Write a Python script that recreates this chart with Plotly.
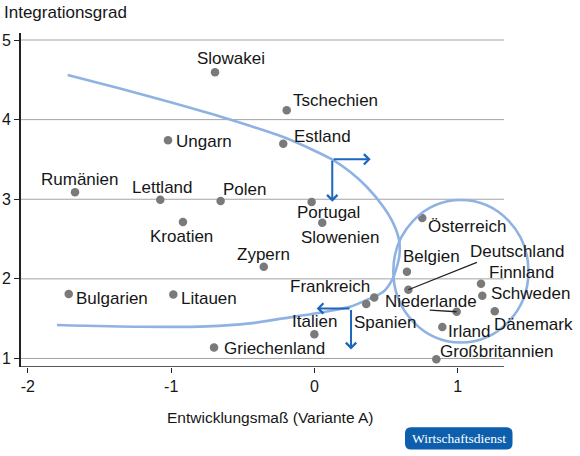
import plotly.graph_objects as go

# ---------------- data ----------------
countries = ["Slowakei", "Tschechien", "Ungarn", "Estland", "Rumänien", "Lettland", "Polen",
             "Kroatien", "Portugal", "Slowenien", "Österreich", "Zypern", "Bulgarien", "Litauen",
             "Griechenland", "Frankreich", "Spanien", "Italien", "Belgien", "Deutschland",
             "Niederlande", "Finnland", "Schweden", "Dänemark", "Irland", "Großbritannien"]
entwicklung = [-0.694, -0.194, -1.022, -0.218, -1.671, -1.076, -0.655,
               -0.918, -0.020, 0.054, 0.752, -0.354, -1.715, -0.985,
               -0.701, 0.417, 0.361, -0.001, 0.645, 0.655,
               0.992, 1.162, 1.171, 1.258, 0.892, 0.850]
integration = [4.594, 4.117, 3.740, 3.697, 3.087, 2.994, 2.977,
               2.714, 2.965, 2.705, 2.764, 2.152, 1.809, 1.805,
               1.139, 1.767, 1.683, 1.303, 2.089, 1.863,
               1.587, 1.938, 1.788, 1.592, 1.394, 0.989]

# label offsets (pixels, label centre relative to dot; +y = down)
label_dx = [15.8, 48.5, 36.2, 39.2, 5.2, 2.7, 24.3,
            -1.8, 16.6, 17.4, 44.4, 0.0, 43.5, 35.9,
            60.5, -44.6, 18.7, 0.4, 24.7, 108.7,
            -25.4, 40.2, 48.2, 38.3, 26.9, 60.0]
label_dy = [-13.8, -10.3, 0.7, -7.0, -13.3, -12.7, -12.0,
            14.3, 10.5, 14.8, 8.0, -12.7, 4.0, 3.7,
            1.2, -11.3, 18.0, -12.8, -15.7, -38.0,
            -10.0, -11.2, -2.7, 12.7, 4.0, -8.3]

# cluster boundary curve (hand-drawn separator)
curve_x = [-1.722, -1.357, -0.985, -0.613, -0.218, 0.015, 0.131, 0.248, 0.364, 0.480,
           0.550, 0.590, 0.593, 0.572, 0.541, 0.480, 0.364, 0.248, 0.015, -0.218,
           -0.450, -0.752, -1.218, -1.797]
curve_y = [4.560, 4.390, 4.208, 4.013, 3.781, 3.597, 3.492, 3.345, 3.157, 2.906,
           2.697, 2.487, 2.299, 2.136, 1.985, 1.838, 1.734, 1.649, 1.567, 1.504,
           1.441, 1.403, 1.398, 1.420]

# circle around core cluster
circle_x = [0.550, 1.493]
circle_y = [1.200, 2.990]

y_ticks = [1, 2, 3, 4, 5]
x_ticks = [-2, -1, 0, 1]
x_ticktext = ["-2", "-1", "0", "1"]

# arrows: (start_x, start_y, end_x, end_y)
arrows = [(0.124, 3.501, 0.392, 3.501), (0.124, 3.501, 0.124, 2.969),
          (0.255, 1.629, 0.015, 1.629), (0.255, 1.629, 0.255, 1.114)]

# ---------------- layout constants ----------------
W, H = 580, 456
ML, MR, MT, MB = 21, 35, 33, 89
XR = [-2.048, 1.6085]
YR = [0.893, 5.088]
GRID_END = 1.322
FONT = "Liberation Sans, Arial, sans-serif"
TXT = "#161616"
DOT = "#7a7a7a"
LIGHT = "#8fb2e3"
DARK = "#1c67bc"

pw = W - ML - MR
ph = H - MT - MB
def px2paper(px, py):
    return (px - ML) / pw, (H - MB - py) / ph

fig = go.Figure()

# separator curve
fig.add_trace(go.Scatter(x=curve_x, y=curve_y, mode="lines",
                         line=dict(color=LIGHT, width=2.6, shape="spline", smoothing=0.8),
                         hoverinfo="skip", showlegend=False))

# points
fig.add_trace(go.Scatter(x=entwicklung, y=integration, mode="markers",
                         marker=dict(color=DOT, size=8.5), text=countries,
                         hoverinfo="text", showlegend=False, cliponaxis=False))

shapes = []
# gridlines
for v in y_ticks:
    shapes.append(dict(type="line", xref="x", yref="y", x0=XR[0], x1=GRID_END, y0=v, y1=v,
                       line=dict(color="#a3a3a3", width=1), layer="below"))
# x axis line
shapes.append(dict(type="line", xref="x", yref="y", x0=XR[0], x1=GRID_END, y0=YR[0], y1=YR[0],
                   line=dict(color="#222222", width=1.6)))
# circle
shapes.append(dict(type="circle", xref="x", yref="y", x0=circle_x[0], x1=circle_x[1],
                   y0=circle_y[0], y1=circle_y[1], line=dict(color=LIGHT, width=2.6)))

# badge
bx0, by0 = px2paper(405, 449.5)
bx1, by1 = px2paper(512.5, 427.3)
rx = 6 / pw
ry = 6 / ph
path = (f"M{bx0+rx},{by0} L{bx1-rx},{by0} Q{bx1},{by0} {bx1},{by0+ry} "
        f"L{bx1},{by1-ry} Q{bx1},{by1} {bx1-rx},{by1} L{bx0+rx},{by1} "
        f"Q{bx0},{by1} {bx0},{by1-ry} L{bx0},{by0+ry} Q{bx0},{by0} {bx0+rx},{by0} Z")
shapes.append(dict(type="path", xref="paper", yref="paper", path=path,
                   fillcolor="#0d5fad", line=dict(width=0)))

annotations = []
for name, x, y, dx, dy in zip(countries, entwicklung, integration, label_dx, label_dy):
    annotations.append(dict(x=x, y=y, xref="x", yref="y", text=name, showarrow=False,
                            xanchor="center", yanchor="middle", xshift=dx, yshift=-dy,
                            font=dict(family=FONT, size=17, color=TXT), borderpad=0))

# leader lines
leaders = {"Deutschland": (70, -28), "Niederlande": (-28.4, -1.7)}
for name, (ax, ay) in leaders.items():
    i = countries.index(name)
    annotations.append(dict(x=entwicklung[i], y=integration[i], xref="x", yref="y", text="",
                            showarrow=True, arrowhead=0, ax=ax, ay=ay,
                            arrowwidth=1.3, arrowcolor="#222222", standoff=0))

# blue arrows
for sx, sy, ex, ey in arrows:
    annotations.append(dict(x=ex, y=ey, ax=sx, ay=sy, xref="x", yref="y", axref="x", ayref="y",
                            text="", showarrow=True, arrowhead=4, arrowsize=1.0,
                            arrowwidth=2, arrowcolor=DARK, standoff=0))

# axis titles
tx, ty = px2paper(2.7, 12.5)
annotations.append(dict(x=tx, y=ty, xref="paper", yref="paper", text="Integrationsgrad",
                        showarrow=False, xanchor="left", yanchor="middle", borderpad=0,
                        font=dict(family=FONT, size=17, color=TXT)))
tx, ty = px2paper(270.3, 417.5)
annotations.append(dict(x=tx, y=ty, xref="paper", yref="paper", text="Entwicklungsmaß (Variante A)",
                        showarrow=False, xanchor="center", yanchor="middle",
                        font=dict(family=FONT, size=15.5, color=TXT)))
# badge text
tx, ty = px2paper(458.7, 438.4)
annotations.append(dict(x=tx, y=ty, xref="paper", yref="paper", text="Wirtschaftsdienst",
                        showarrow=False, xanchor="center", yanchor="middle",
                        font=dict(family="Liberation Serif, Times New Roman, serif", size=13.5,
                                  color="white")))

fig.update_layout(
    width=W, height=H, margin=dict(l=ML, r=MR, t=MT, b=MB),
    paper_bgcolor="white", plot_bgcolor="white",
    shapes=shapes, annotations=annotations, showlegend=False,
    xaxis=dict(range=XR, showgrid=False, zeroline=False, showline=False, automargin=False,
               tickvals=x_ticks, ticktext=x_ticktext, ticks="outside", ticklen=5,
               tickcolor="#222222", tickwidth=1.3,
               tickfont=dict(family=FONT, size=16, color=TXT)),
    yaxis=dict(range=YR, showgrid=False, zeroline=False, showline=True, automargin=False,
               linecolor="#222222", linewidth=1.6,
               tickvals=y_ticks, ticks="outside", ticklen=5, tickcolor="#222222", tickwidth=1.3,
               tickfont=dict(family=FONT, size=16, color=TXT)),
    font=dict(family=FONT, color=TXT),
)

fig.write_html("out.html")
